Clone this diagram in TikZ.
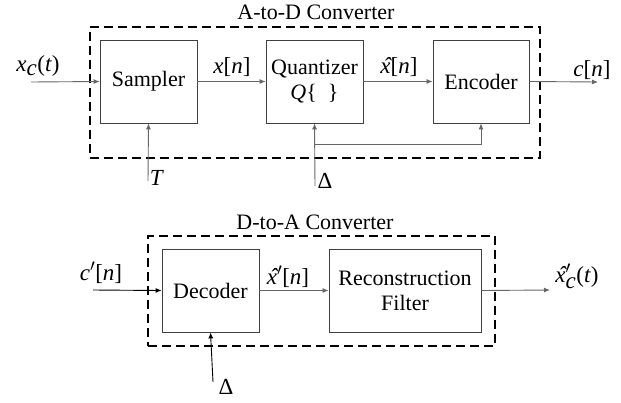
\documentclass[tikz,border=0pt]{standalone}
\usepackage{fontspec}
\setmainfont{Liberation Serif}
\usetikzlibrary{arrows.meta}
\newcommand{\xhat}{\textit{\rlap{\kern0.13em ˆ}x}}
\begin{document}
\begin{tikzpicture}[x=1pt,y=-1pt,
  blk/.style={draw=black!75,line width=0.8pt,inner sep=0pt,font=\fontsize{22}{25}\selectfont,align=center},
  dbox/.style={draw=black,line width=2pt,dash pattern=on 9pt off 5pt},
  sig/.style={draw=black!60,line width=0.9pt,-{Latex[length=6pt,width=5pt]}},
  lbl/.style={font=\fontsize{23}{25}\selectfont,inner sep=0pt},
  ttl/.style={font=\fontsize{22}{25}\selectfont,inner sep=0pt}]
\useasboundingbox (0,0) rectangle (621,402);
% A-to-D
\node[dbox,minimum width=450pt,minimum height=131pt] (ad) at (315,92.5) {};
\node[ttl] (adt) at (316,12) {A-to-D Converter};
\node[blk,minimum width=97pt,minimum height=83pt] (samp) at (148.5,81.5) {Sampler};
\node[blk,minimum width=97pt,minimum height=83pt] (quant) at (314.5,81.5) {Quantizer\\\textit{Q}\{\ \ \}};
\node[blk,minimum width=96pt,minimum height=83pt] (enc) at (481,81.5) {Encoder};
\coordinate (xin) at (31,82);
\coordinate (cout) at (598,82);
\coordinate (tin) at (148,181);
\coordinate (din) at (315,186);
\coordinate (br) at (315,144);
\coordinate (brr) at (481,144);
\draw[sig] (xin) -- (samp.west);
\draw[sig] (samp.east) -- (quant.west);
\draw[sig] (quant.east) -- (enc.west);
\draw[sig] (enc.east) -- (cout);
\draw[sig] (tin) -- (samp.south);
\draw[sig] (din) -- (quant.south);
\draw[sig] (br) -- (brr) -- (enc.south);
\node[lbl] (l1) at (38,66) {\textit{x}$_{\textit{c}}$(\textit{t})};
\node[lbl] (l2) at (232,67) {\textit{x}[\textit{n}]};
\node[lbl] (l3) at (399,67) {\xhat[\textit{n}]};
\node[lbl] (l4) at (592,70) {\textit{c}[\textit{n}]};
\node[lbl] (l5) at (157,178) {\textit{T}};
\node[lbl] (l6) at (325,181) {Δ};
% D-to-A
\node[dbox,minimum width=347pt,minimum height=110pt] (da) at (321.5,291) {};
\node[ttl] (dat) at (315,222) {D-to-A Converter};
\node[blk,minimum width=97pt,minimum height=83pt] (dec) at (210.5,290.5) {Decoder};
\node[blk,minimum width=152pt,minimum height=83pt] (rec) at (405,290.5) {Reconstruction\\Filter};
\coordinate (cin) at (93,290);
\coordinate (xout) at (550,290);
\coordinate (d2in) at (213,382);
\draw[sig,draw=black] (cin) -- (dec.west);
\draw[sig] (dec.east) -- (rec.west);
\draw[sig] (rec.east) -- (xout);
\draw[sig,draw=black] (d2in) -- (dec.south);
\node[lbl] (m1) at (101,273) {\textit{c}$'$[\textit{n}]};
\node[lbl] (m2) at (288,277) {\xhat$'$[\textit{n}]};
\node[lbl] (m3) at (577,276) {\xhat$'_{\textit{c}}$(\textit{t})};
\node[lbl] (m4) at (226,387) {Δ};
\end{tikzpicture}
\end{document}
